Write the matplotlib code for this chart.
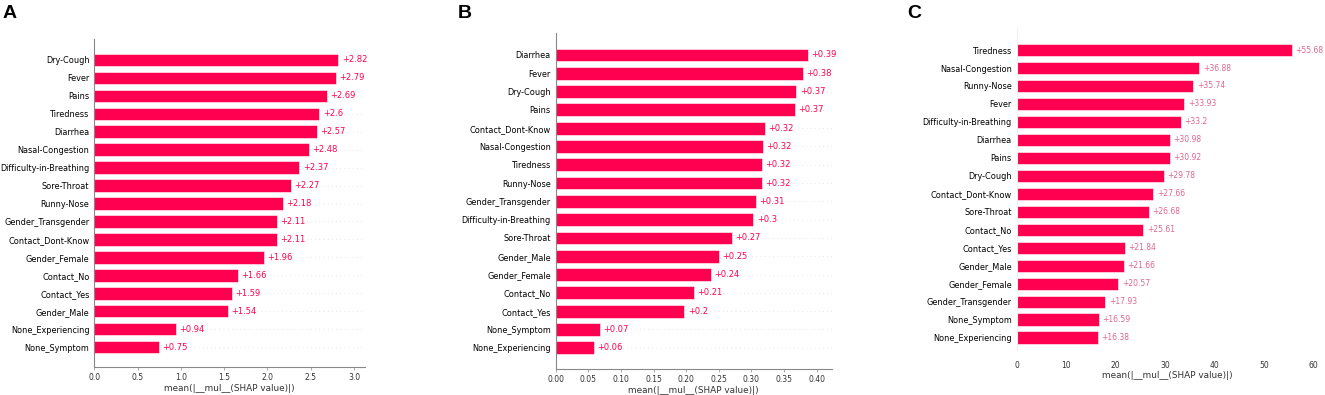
import matplotlib
matplotlib.use("Agg")
import matplotlib.pyplot as plt

plt.rcParams['font.family'] = ['DejaVu Sans Condensed', 'DejaVu Sans']

# panel A
feat_a = ["Dry-Cough", "Fever", "Pains", "Tiredness", "Diarrhea", "Nasal-Congestion",
          "Difficulty-in-Breathing", "Sore-Throat", "Runny-Nose", "Gender_Transgender",
          "Contact_Dont-Know", "Gender_Female", "Contact_No", "Contact_Yes",
          "Gender_Male", "None_Experiencing", "None_Symptom"]
vals_a = [2.82, 2.79, 2.69, 2.6, 2.57, 2.48, 2.37, 2.27, 2.18, 2.11, 2.11, 1.96,
          1.66, 1.59, 1.54, 0.94, 0.75]
ticks_a = [0.0, 0.5, 1.0, 1.5, 2.0, 2.5, 3.0]

# panel B
feat_b = ["Diarrhea", "Fever", "Dry-Cough", "Pains", "Contact_Dont-Know",
          "Nasal-Congestion", "Tiredness", "Runny-Nose", "Gender_Transgender",
          "Difficulty-in-Breathing", "Sore-Throat", "Gender_Male", "Gender_Female",
          "Contact_No", "Contact_Yes", "None_Symptom", "None_Experiencing"]
vals_b = [0.386, 0.379, 0.369, 0.366, 0.321, 0.317, 0.316, 0.316, 0.307, 0.303,
          0.27, 0.25, 0.238, 0.212, 0.197, 0.068, 0.058]
ticks_b = [0.0, 0.05, 0.10, 0.15, 0.20, 0.25, 0.30, 0.35, 0.40]

# panel C
feat_c = ["Tiredness", "Nasal-Congestion", "Runny-Nose", "Fever",
          "Difficulty-in-Breathing", "Diarrhea", "Pains", "Dry-Cough",
          "Contact_Dont-Know", "Sore-Throat", "Contact_No", "Contact_Yes",
          "Gender_Male", "Gender_Female", "Gender_Transgender", "None_Symptom",
          "None_Experiencing"]
vals_c = [55.68, 36.88, 35.74, 33.93, 33.2, 30.98, 30.92, 29.78, 27.66, 26.68,
          25.61, 21.84, 21.66, 20.57, 17.93, 16.59, 16.38]
ticks_c = [0, 10, 20, 30, 40, 50, 60]

RED = "#ff0051"
XLABEL = "mean(|__mul__(SHAP value)|)"
W, H = 1325, 395


def shap_bar(ax, feats, vals, ticks, xmax, ylim, tick_fmt, txt_color=RED,
             faint=False, label_pad=2, tick_pad=2, val_size=6):
    n = len(feats)
    ypos = list(range(n - 1, -1, -1))
    if not faint:
        for y in ypos:
            ax.axhline(y, color="#cccccc", lw=0.5, dashes=(1, 5), zorder=-1)
    ax.barh(ypos, vals, 0.7, align="center", color=RED,
            edgecolor=(1, 1, 1, 0.8), lw=0.5)
    for y, v in zip(ypos, vals):
        ax.text(v + xmax / 80, y, "%+g" % round(v, 2), ha="left", va="center",
                color=txt_color, fontsize=val_size)
    ax.set_yticks(ypos)
    ax.set_yticklabels(feats, fontsize=5.9)
    ax.set_xticks(ticks)
    ax.set_xticklabels([tick_fmt % t for t in ticks], fontsize=5.5)
    ax.set_xlim(0, xmax)
    ax.set_ylim(*ylim)
    ax.tick_params(axis="y", length=0, pad=3.5)
    ax.spines["top"].set_visible(False)
    ax.spines["right"].set_visible(False)
    if faint:
        ax.spines["left"].set_color("#f0f0f0")
        ax.spines["bottom"].set_visible(False)
        ax.tick_params(axis="x", length=0, pad=tick_pad, colors="#333333")
    else:
        ax.spines["left"].set_color("#888888")
        ax.spines["bottom"].set_color("#888888")
        ax.tick_params(axis="x", length=2.5, width=0.5, pad=tick_pad,
                       colors="#888888", labelcolor="#333333")
    ax.set_xlabel(XLABEL, fontsize=6.4, labelpad=label_pad, color="#333333")


fig = plt.figure(figsize=(W / 100, H / 100), dpi=100)

ax_a = fig.add_axes([94.3 / W, 1 - 367 / H, (365 - 94.3) / W, (367 - 39) / H])
shap_bar(ax_a, feat_a, vals_a, ticks_a, 3.127, (-1.11, 17.17), "%.1f",
         label_pad=1.5)

ax_b = fig.add_axes([555.7 / W, 1 - 369 / H, (831.7 - 555.7) / W, (369 - 33) / H])
shap_bar(ax_b, feat_b, vals_b, ticks_b, 0.423, (-1.16, 17.2), "%.2f",
         label_pad=1.2)

ax_c = fig.add_axes([1016.7 / W, 1 - 350 / H, (1318.2 - 1016.7) / W, (350 - 27) / H])
shap_bar(ax_c, feat_c, vals_c, ticks_c, 61, (-0.68, 17.28), "%d",
         txt_color="#e0668f", faint=True, label_pad=1, tick_pad=8, val_size=5.5)

for x, lab in [(3, "A"), (458, "B"), (907, "C")]:
    fig.text(x / W, 1 - 5 / H, lab, fontsize=14, fontweight="bold",
             family="Liberation Sans", ha="left", va="top")

fig.savefig("out.png", dpi=100)
